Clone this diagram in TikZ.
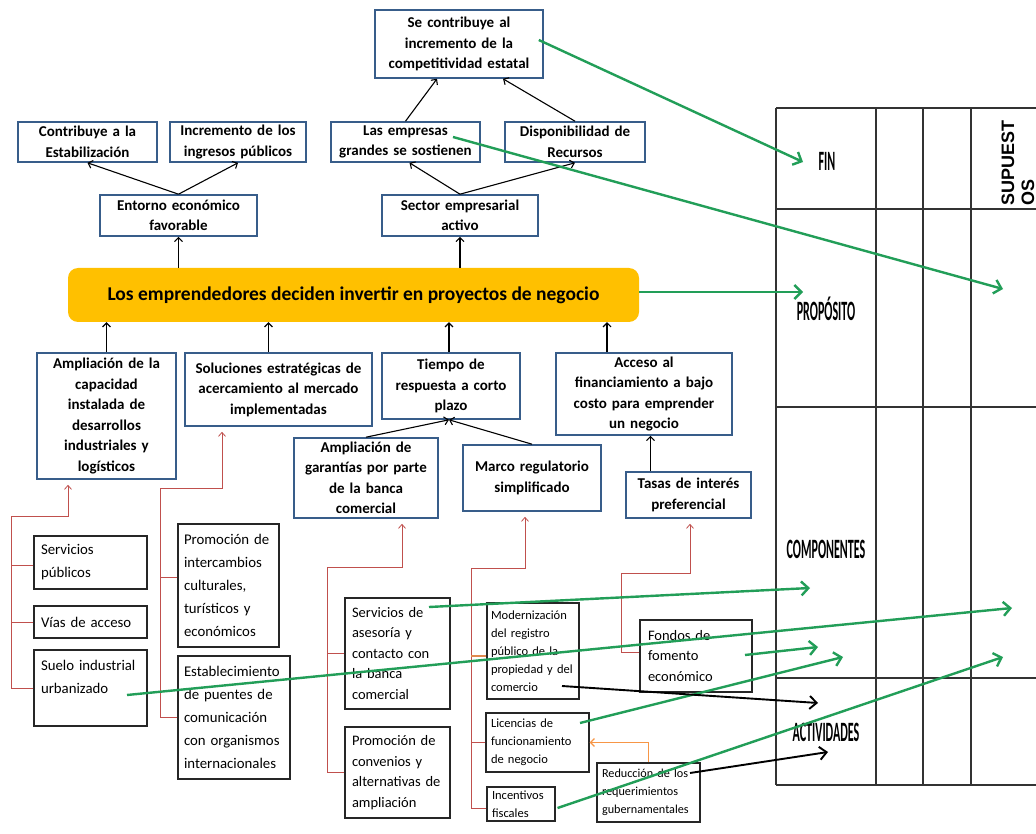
\documentclass[tikz,border=0pt]{standalone}
\usepackage{fontspec}
\setmainfont{Carlito}
\newfontfamily\supfont{Liberation Sans}
\usepackage{graphicx}
\usetikzlibrary{arrows.meta,calc}
\definecolor{boxblue}{HTML}{385D8A}
\definecolor{bargold}{HTML}{FFC000}
\definecolor{grn}{RGB}{34,158,88}
\definecolor{redl}{HTML}{C0504D}
\definecolor{orng}{HTML}{F79646}
\definecolor{brn}{HTML}{E0894F}
\newcommand\drawbx[8]{%
  \pgfmathsetmacro\bxw{#4-#2}%
  \pgfmathsetmacro\bxh{#5-#3}%
  \pgfmathsetmacro\bxcx{(#2+#4)/2}%
  \pgfmathsetmacro\bxcy{(#3+#5)/2}%
  \pgfmathsetmacro\bxtw{#4-#2-2*#7}%
  \node[#6, inner xsep=#7pt, inner ysep=0pt, minimum width=\bxw pt, minimum height=\bxh pt, text width=\bxtw pt] (#1) at (\bxcx,\bxcy) {#8};}
\newcommand\tlabtext[1]{\scalebox{0.43}[1]{#1}}
\begin{document}
\begin{tikzpicture}[x=1pt,y=-1pt,
  ubox/.style={draw=boxblue, line width=1.6pt, fill=white, align=center, font=\bfseries\fontsize{15}{20.5}\selectfont},
  kbox/.style={draw=black!85, line width=1.2pt, fill=white, align=left, font=\fontsize{14.8}{23}\selectfont},
  mbox/.style={draw=black!85, line width=1.2pt, fill=white, align=left, font=\fontsize{14.5}{20.5}\selectfont},
  sbox/.style={draw=black!85, line width=1.1pt, fill=white, align=left, font=\fontsize{12.5}{18}\selectfont},
  blk/.style={draw=black, line width=1.1pt, -{Straight Barb[length=4pt,width=8pt]}},
  redc/.style={draw=redl, line width=0.8pt},
  redarr/.style={redc, -{Straight Barb[length=4pt,width=7pt]}, shorten >=5pt},
  brnl/.style={draw=brn, line width=1.2pt},
  orarr/.style={draw=orng, line width=1.3pt, -{Straight Barb[length=4pt,width=8pt]}},
  grnarr/.style={draw=grn, line width=2.4pt, -{Straight Barb[length=7pt,width=14pt]}},
  blkarr/.style={draw=black, line width=1.9pt, -{Straight Barb[length=7pt,width=13pt]}},
  tbl/.style={draw=black!80, line width=1.4pt},
  tlab/.style={font=\bfseries\fontsize{28}{28}\selectfont, inner sep=0pt}
]
\useasboundingbox (0,0) rectangle (1036,834);
\fill[white] (0,0) rectangle (1036,834);

% ---------- matrix table ----------
\foreach \yy in {108,209,407,678,785} \draw[tbl] (776,\yy) -- (1036,\yy);
\foreach \xx in {776,876,923,971} \draw[tbl] (\xx,108) -- (\xx,785);
\node[tlab] (lfin) at (827,161) {\tlabtext{FIN}};
\node[tlab] (lprop) at (826,309) {\tlabtext{PROPÓSITO}};
\node[tlab] (lcomp) at (826,549) {\tlabtext{COMPONENTES}};
\node[tlab] (lact) at (826,732) {\tlabtext{ACTIVIDADES}};
\node[rotate=90, align=left, inner sep=0pt, font=\supfont\bfseries\fontsize{18}{20}\selectfont] (lsup) at (1018,163) {SUPUEST\\OS};

% ---------- upper boxes ----------
\drawbx{top}{375}{10}{543}{78}{ubox}{3}{Se contribuye al\\incremento de la\\competitividad estatal}
\drawbx{contrib}{18}{122}{157}{162}{ubox}{3}{Contribuye a la\\Estabilización}
\drawbx{incre}{170}{122}{306}{162}{ubox}{3}{Incremento de los\\ingresos públicos}
\drawbx{empresas}{331}{122}{480}{162}{ubox}{3}{Las empresas\\grandes se sostienen}
\drawbx{dispon}{505}{122}{645}{162}{ubox}{3}{Disponibilidad de\\Recursos}
\drawbx{entorno}{100}{195}{257}{236}{ubox}{3}{Entorno económico\\favorable}
\drawbx{sector}{382}{195}{538}{236}{ubox}{3}{Sector empresarial\\activo}

\node[rounded corners=10pt, fill=bargold, minimum width=571pt, minimum height=54pt, inner sep=0pt,
      font=\bfseries\fontsize{19.5}{22}\selectfont] (bar) at (353.5,295)
      {Los emprendedores deciden invertir en proyectos de negocio};

\drawbx{amplcap}{37}{353}{176}{479}{ubox}{3}{Ampliación de la\\capacidad\\instalada de\\desarrollos\\industriales y\\logísticos}
\drawbx{soluc}{185}{353}{372}{426}{ubox}{3}{Soluciones estratégicas de\\acercamiento al mercado\\implementadas}
\drawbx{tiempo}{382}{353}{520}{419}{ubox}{3}{Tiempo de\\respuesta a corto\\plazo}
\drawbx{acceso}{556}{353}{732}{435}{ubox}{3}{Acceso al\\financiamiento a bajo\\costo para emprender\\un negocio}
\drawbx{amplgar}{294}{438}{438}{518}{ubox}{3}{Ampliación de\\garantías por parte\\de la banca\\comercial}
\drawbx{marco}{463}{445}{601}{511}{ubox}{3}{Marco regulatorio\\simplificado}
\drawbx{tasas}{626}{472}{751}{518}{ubox}{3}{Tasas de interés\\preferencial}

% ---------- lower boxes ----------
\drawbx{servpub}{34}{536}{147}{589}{kbox}{7}{Servicios\\públicos}
\drawbx{vias}{34}{606}{147}{638}{kbox}{7}{Vías de acceso}
\drawbx{suelo}{34}{650}{147}{726}{kbox}{7}{Suelo industrial\\urbanizado\\\mbox{}}
\drawbx{promint}{178}{524}{279}{647}{kbox}{6}{Promoción de\\intercambios\\culturales,\\turísticos y\\económicos}
\drawbx{estab}{178}{656}{290}{779}{kbox}{6}{Establecimiento\\de puentes de\\comunicación\\con organismos\\internacionales}
\drawbx{servas}{345}{598}{450}{709}{mbox}{7}{Servicios de\\asesoría y\\contacto con\\la banca\\comercial}
\drawbx{promconv}{345}{727}{450}{818}{mbox}{7}{Promoción de\\convenios y\\alternativas de\\ampliación}
\drawbx{modern}{487}{603}{579}{699}{sbox}{4}{Modernización\\del registro\\público de la\\propiedad y del\\comercio}
\drawbx{licen}{486}{713}{589}{772}{sbox}{5}{Licencias de\\funcionamiento\\de negocio}
\drawbx{incent}{487}{787}{555}{821}{sbox}{5}{Incentivos\\fiscales}
\drawbx{fondos}{640}{620}{752}{692}{mbox}{8}{Fondos de\\fomento\\económico}
\drawbx{reduc}{597}{763}{700}{822}{sbox}{5}{\fontsize{12.2}{17.5}\selectfont Reducción de los\\requerimientos\\gubernamentales}

% ---------- black connectors (upper tree) ----------
\draw[blk] (entorno.north) -- (contrib.south);
\draw[blk] (entorno.north) -- (incre.south);
\draw[blk] (sector.north) -- ($(empresas.south)+(4,0)$);
\draw[blk] (sector.north) -- (dispon.south);
\draw[blk] (empresas.north) -- ($(top.south)+(-22,0)$);
\draw[blk] (dispon.north) -- ($(top.south)+(44,0)$);
\draw[blk] (entorno.south |- bar.north) -- (entorno.south);
\draw[blk] (sector.south |- bar.north) -- (sector.south);
\draw[blk] (amplcap.north) -- (amplcap.north |- bar.south);
\draw[blk] ($(soluc.north)+(-10,0)$) coordinate (s1) -- (s1 |- bar.south);
\draw[blk] ($(tiempo.north)+(-2,0)$) coordinate (s2) -- (s2 |- bar.south);
\draw[blk] ($(acceso.north)+(-37,0)$) coordinate (s3) -- (s3 |- bar.south);
\draw[blk] (amplgar.north) -- ($(tiempo.south)+(-2,0)$);
\draw[blk] (marco.north) -- ($(tiempo.south)+(-2,0)$);
\draw[blk] ($(tasas.north)+(-38,0)$) coordinate (t1) -- (t1 |- acceso.south);

% ---------- red brackets ----------
\coordinate (r1a) at (11,516); \coordinate (r1b) at (68,516);
\draw[redarr] (suelo.west) -- (suelo.west -| r1a) -- (r1a) -- (r1b) -- (r1b |- amplcap.south);
\draw[redc] ($(servpub.west)+(0,3)$) coordinate (q1) -- (q1 -| r1a);
\draw[redc] (vias.west) -- (vias.west -| r1a);

\coordinate (r2a) at (160,488); \coordinate (r2b) at (222,488);
\draw[redarr] (estab.west) -- (estab.west -| r2a) -- (r2a) -- (r2b) -- (r2b |- soluc.south);
\draw[redc] ($(promint.west)+(0,-8)$) coordinate (p1) -- (p1 -| r2a);

\coordinate (r3a) at (327,567); \coordinate (r3b) at (402,567);
\draw[redarr] (promconv.west) -- (promconv.west -| r3a) -- (r3a) -- (r3b) -- (r3b |- amplgar.south);
\draw[redc] (servas.west) -- (servas.west -| r3a);

\coordinate (r4a) at (471,568); \coordinate (r4b) at (525,568);
\draw[redarr] ($(incent.west)+(0,4)$) coordinate (i1) -- (i1 -| r4a) -- (r4a) -- (r4b) -- (r4b |- marco.south);
\draw[redc] (licen.west) -- (licen.west -| r4a);
\draw[brnl] ($(modern.west)+(0,5)$) coordinate (m1) -- (m1 -| r4a);

\coordinate (r5a) at (621,573); \coordinate (r5b) at (690,573);
\draw[redarr] ($(fondos.west)+(0,-4)$) coordinate (f1) -- (f1 -| r5a) -- (r5a) -- (r5b) -- (r5b |- tasas.south);

\draw[orarr] (reduc.north) |- (licen.east);

% ---------- arrows into the matrix ----------
\coordinate (finT) at (803,162);
\coordinate (supP) at (1003,289);
\coordinate (propT) at (803,292);
\coordinate (compA) at (810,588);
\coordinate (supC1) at (1012,608);
\coordinate (compB) at (818,647);
\coordinate (compC) at (843,657);
\coordinate (supC2) at (1003,657);
\coordinate (actA) at (818,703);
\coordinate (actB) at (828,752);

\draw[grnarr] ($(top.east)+(-5,-4)$) -- (finT);
\draw[grnarr] ($(empresas.center)+(47.5,-5)$) -- (supP);
\draw[grnarr] ($(bar.east)+(0,-3)$) -- (propT);
\draw[grnarr] ($(servas.center)+(31.5,-46.5)$) -- (compA);
\draw[grnarr] ($(suelo.center)+(36.5,7)$) -- (supC1);
\draw[grnarr] ($(fondos.center)+(49,-1)$) -- (compB);
\draw[grnarr] ($(licen.center)+(42.5,-19.5)$) -- (compC);
\draw[grnarr] ($(incent.east)+(2,4)$) -- (supC2);
\draw[blkarr] ($(modern.center)+(29,35)$) -- (actA);
\draw[blkarr] ($(reduc.center)+(41.5,-19.5)$) -- (actB);
\end{tikzpicture}
\end{document}
